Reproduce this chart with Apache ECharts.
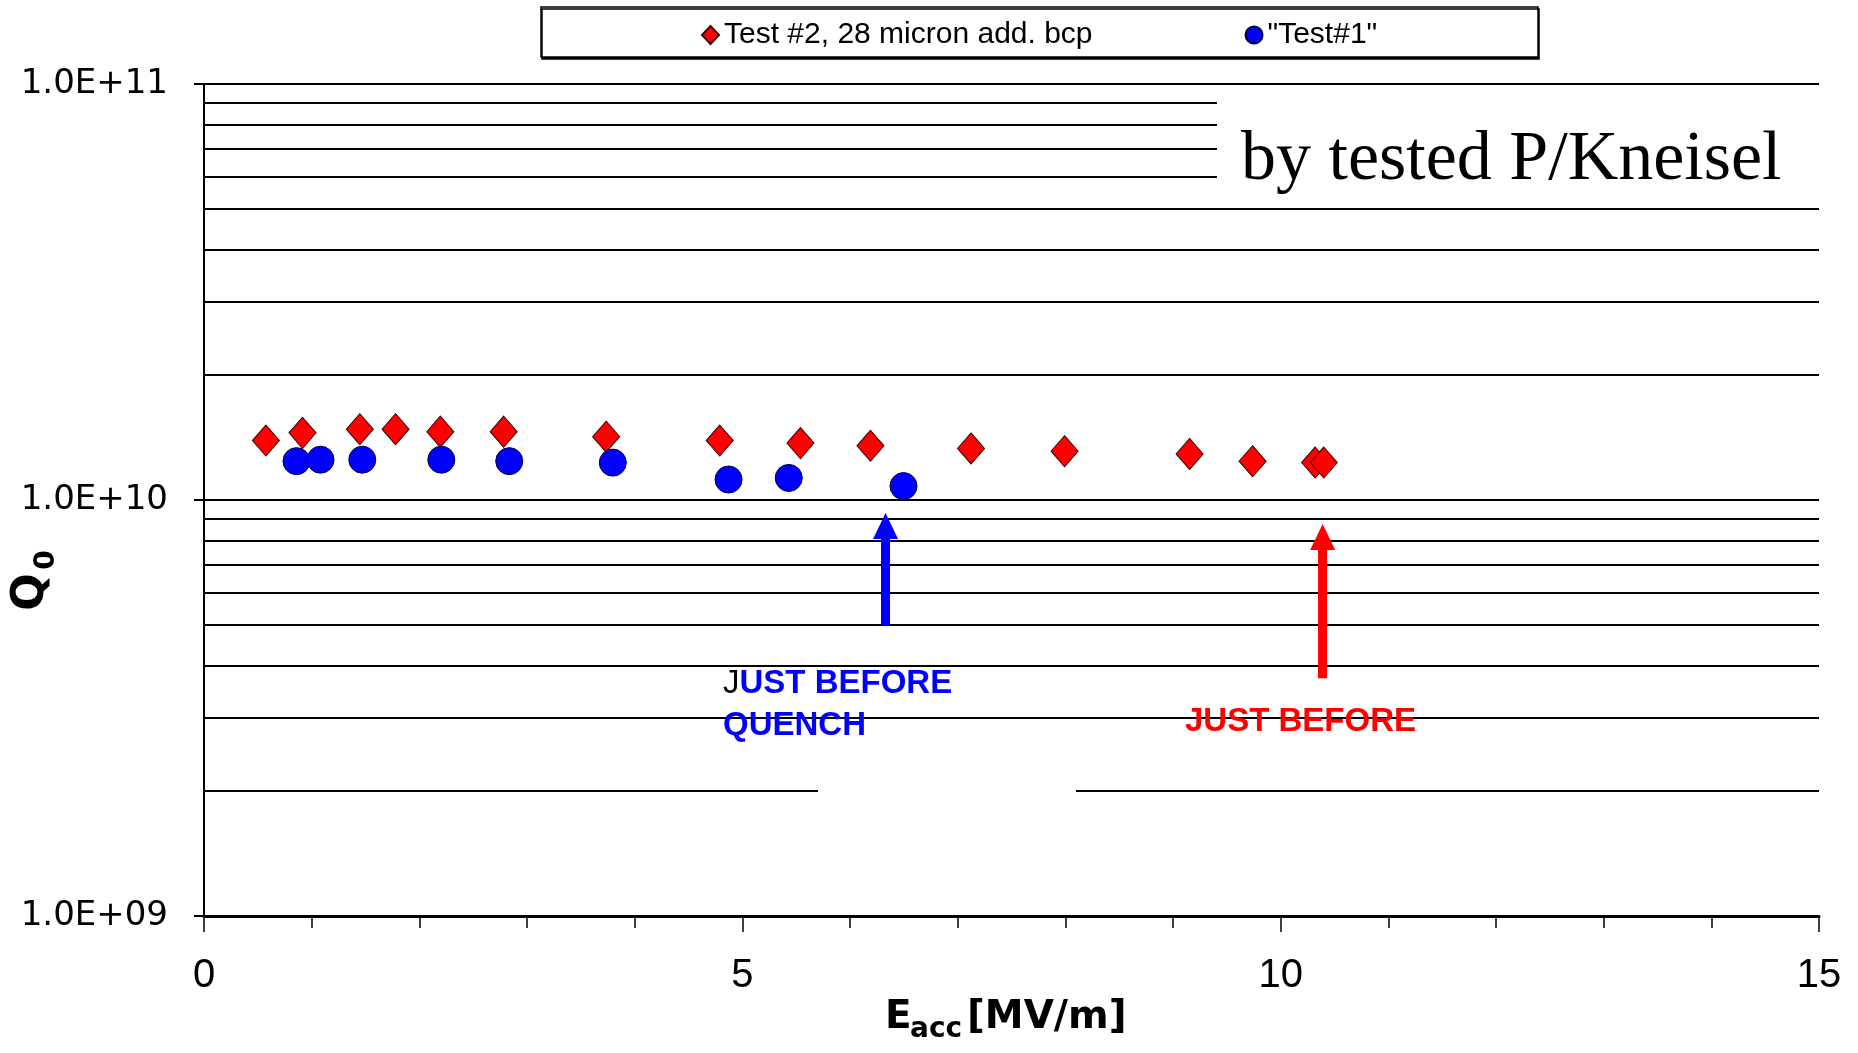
<!DOCTYPE html>
<html>
<head>
<meta charset="utf-8">
<script src="https://cdn.jsdelivr.net/npm/echarts@6/dist/echarts.min.js"></script>
<style>
  html, body { margin: 0; padding: 0; background: #fff; }
  #chart { width: 1858px; height: 1053px; }
</style>
</head>
<body>
<div id="chart"></div>
<script>
// Test #2, 28 micron add. bcp (red diamonds)
const test2Eacc = [0.575, 0.915, 1.447, 1.779, 2.195, 2.783, 3.735, 4.79, 5.54, 6.19, 7.124, 7.993, 9.154, 9.739, 10.32, 10.40]
const test2Q0 = [1.39e10, 1.45e10, 1.48e10, 1.48e10, 1.46e10, 1.46e10, 1.42e10, 1.39e10, 1.37e10, 1.35e10, 1.33e10, 1.31e10, 1.29e10, 1.24e10, 1.23e10, 1.23e10]

// "Test#1" (blue circles)
const test1Eacc = [0.859, 1.082, 1.470, 2.204, 2.835, 3.797, 4.872, 5.431, 6.497]
const test1Q0 = [1.24e10, 1.25e10, 1.25e10, 1.25e10, 1.24e10, 1.23e10, 1.12e10, 1.13e10, 1.08e10]

// minor gridlines of the log axis
const minorGrid = [2e9, 3e9, 4e9, 5e9, 6e9, 7e9, 8e9, 9e9, 2e10, 3e10, 4e10, 5e10, 6e10, 7e10, 8e10, 9e10]
const yTickLabels = ['1.0E+09', '1.0E+10', '1.0E+11']

// quench arrows [start, end] in (Eacc, Q0)
const blueArrow = [[6.33, 5.0e9], [6.33, 8.66e9]]
const redArrow = [[10.39, 3.73e9], [10.39, 8.15e9]]

const seriesNames = ['Test #2, 28 micron add. bcp', '"Test#1"']

const chart = echarts.init(document.getElementById('chart'))

const axisFont = '"Liberation Sans", Arial, sans-serif'
const boldFont = '"DejaVu Sans", sans-serif'

const option = {
  animation: false,
  backgroundColor: '#fff',
  grid: {
    left: 204,
    right: 39,
    top: 84,
    bottom: 137,
    containLabel: false,
    outerBoundsMode: 'none'
  },
  legend: {
    left: 696,
    top: 15,
    z: 10,
    itemWidth: 17,
    itemHeight: 18,
    itemGap: 152,
    selectedMode: false,
    textStyle: { fontSize: 30, fontFamily: axisFont, color: '#000' },
    data: [
      { name: seriesNames[0], icon: 'diamond' },
      { name: seriesNames[1], icon: 'circle' }
    ]
  },
  xAxis: {
    type: 'value',
    min: 0,
    max: 15,
    interval: 5,
    axisLine: { show: true, onZero: false, lineStyle: { color: '#000', width: 3 } },
    axisTick: { show: true, inside: false, length: 16, lineStyle: { color: '#000', width: 1.5 } },
    minorTick: { show: true, splitNumber: 5, length: 12, lineStyle: { color: '#000', width: 1.5 } },
    splitLine: { show: false },
    axisLabel: {
      margin: 40,
      fontSize: 40,
      color: '#000',
      fontFamily: '"Liberation Sans Narrow", "Liberation Sans", Arial, sans-serif'
    }
  },
  yAxis: {
    type: 'log',
    logBase: 10,
    min: 1e9,
    max: 1e11,
    axisLine: { show: true, lineStyle: { color: '#000', width: 2 } },
    axisTick: { show: true, inside: false, length: 10, lineStyle: { color: '#000', width: 2 } },
    splitLine: { show: true, lineStyle: { color: '#000', width: 2 } },
    axisLabel: {
      margin: 36,
      fontSize: 34,
      color: '#000',
      fontFamily: boldFont,
      formatter: v => yTickLabels[Math.round(Math.log10(v)) - 9]
    }
  },
  series: [
    {
      name: seriesNames[0],
      type: 'scatter',
      z: 3,
      symbol: 'diamond',
      symbolSize: [27, 31],
      itemStyle: { color: '#ff0000', borderColor: '#3a0000', borderWidth: 1, opacity: 1 },
      data: test2Eacc.map((x, i) => [x, test2Q0[i]]),
      markLine: {
        silent: true,
        z: 1,
        symbol: 'none',
        label: { show: false },
        lineStyle: { color: '#000', width: 2, type: 'solid' },
        data: minorGrid.map(v => ({ yAxis: v }))
      }
    },
    {
      name: seriesNames[1],
      type: 'scatter',
      z: 3,
      symbol: 'circle',
      symbolSize: 27,
      itemStyle: { color: '#0000ff', borderColor: '#00003a', borderWidth: 1, opacity: 1 },
      data: test1Eacc.map((x, i) => [x, test1Q0[i]]),
      markLine: {
        silent: true,
        z: 6,
        symbol: ['none', 'triangle'],
        symbolSize: [25, 26],
        label: { show: false },
        data: [
          [
            { coord: blueArrow[0], lineStyle: { color: '#0000ff', width: 9, type: 'solid' } },
            { coord: blueArrow[1] }
          ],
          [
            { coord: redArrow[0], lineStyle: { color: '#ff0000', width: 9, type: 'solid' } },
            { coord: redArrow[1] }
          ]
        ]
      }
    }
  ],
  graphic: [
    // legend frame
    {
      type: 'rect',
      z: 0,
      shape: { x: 541, y: 7, width: 997, height: 50 },
      style: { fill: '#fff', stroke: '#000', lineWidth: 1.5, shadowColor: '#000', shadowOffsetX: 1, shadowOffsetY: 2, shadowBlur: 0 }
    },
    // white text boxes that hide part of the gridlines
    {
      type: 'rect',
      z: 50,
      shape: { x: 1217, y: 89, width: 620, height: 112 },
      style: { fill: '#fff' }
    },
    {
      type: 'rect',
      z: 50,
      shape: { x: 818, y: 785, width: 258, height: 14 },
      style: { fill: '#fff' }
    },
    {
      type: 'text',
      z: 51,
      x: 1241,
      y: 161,
      style: {
        text: 'by tested P/Kneisel',
        font: '70px "Liberation Serif", "Times New Roman", serif',
        fill: '#000',
        align: 'left',
        verticalAlign: 'middle'
      }
    },
    // annotations
    {
      type: 'text',
      z: 51,
      x: 723,
      y: 684,
      style: {
        text: '{k|J}{b|UST BEFORE}',
        align: 'left',
        verticalAlign: 'middle',
        rich: {
          k: { fontSize: 33, fontFamily: axisFont, fill: '#000' },
          b: { fontSize: 33, fontFamily: axisFont, fontWeight: 'bold', fill: '#0000ff' }
        }
      }
    },
    {
      type: 'text',
      z: 51,
      x: 723,
      y: 726,
      style: {
        text: 'QUENCH',
        font: 'bold 33px "Liberation Sans", Arial, sans-serif',
        fill: '#0000ff',
        align: 'left',
        verticalAlign: 'middle'
      }
    },
    {
      type: 'text',
      z: 51,
      x: 1185,
      y: 722,
      style: {
        text: 'JUST BEFORE',
        font: 'bold 33px "Liberation Sans", Arial, sans-serif',
        fill: '#ff0000',
        align: 'left',
        verticalAlign: 'middle'
      }
    },
    // x axis title E_acc [MV/m]
    {
      type: 'text',
      x: 885,
      y: 1018,
      style: { text: 'E', font: 'bold 39px "DejaVu Sans", sans-serif', fill: '#000', align: 'left', verticalAlign: 'middle' }
    },
    {
      type: 'text',
      x: 910,
      y: 1030,
      style: { text: 'acc', font: 'bold 28px "DejaVu Sans", sans-serif', fill: '#000', align: 'left', verticalAlign: 'middle' }
    },
    {
      type: 'text',
      x: 967,
      y: 1018,
      style: { text: '[MV/m]', font: 'bold 39px "DejaVu Sans", sans-serif', fill: '#000', align: 'left', verticalAlign: 'middle' }
    },
    // y axis title Q_0
    {
      type: 'text',
      x: 32,
      y: 592,
      rotation: Math.PI / 2,
      style: { text: 'Q', font: 'bold 44px "DejaVu Sans", sans-serif', fill: '#000', align: 'center', verticalAlign: 'middle' }
    },
    {
      type: 'text',
      x: 47,
      y: 560,
      rotation: Math.PI / 2,
      style: { text: '0', font: 'bold 28px "DejaVu Sans", sans-serif', fill: '#000', align: 'center', verticalAlign: 'middle' }
    }
  ]
}

chart.setOption(option)
</script>
</body>
</html>
